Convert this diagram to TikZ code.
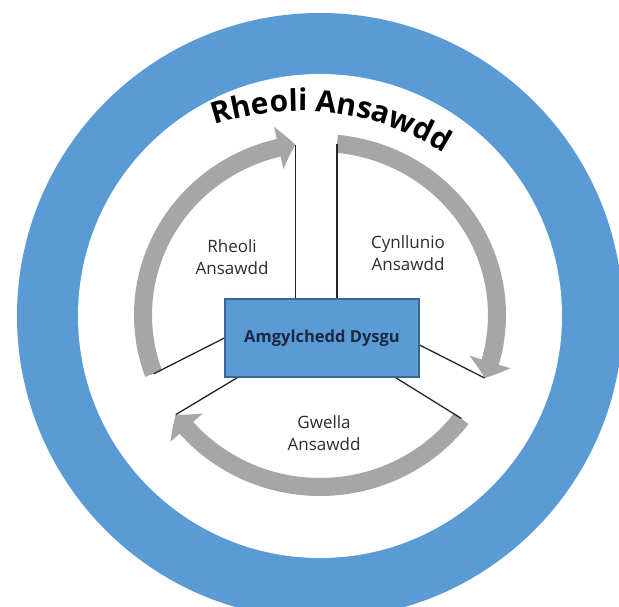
\documentclass[tikz,border=0pt]{standalone}
\usepackage{fontspec}
\setmainfont{Open Sans}
\usetikzlibrary{arrows.meta,bending,calc,decorations.text}
\definecolor{ringblue}{RGB}{91,155,213}
\definecolor{boxedge}{RGB}{58,104,150}
\definecolor{arcgray}{RGB}{166,166,166}
\definecolor{navy}{RGB}{28,40,66}
\definecolor{labelgray}{RGB}{45,45,45}
\begin{document}
\begin{tikzpicture}[x=1pt,y=1pt,
  garrow/.style={draw=arcgray, line width=18pt, -{Triangle[width=42pt,length=17pt,bend]}},
  conn/.style={draw=black!85, line width=1.3pt},
  lbl/.style={font=\fontsize{17}{22}\selectfont, text=labelgray, align=center},
  envbox/.style={draw=boxedge, line width=1.2pt, fill=ringblue, minimum width=194pt, minimum height=78pt, font=\fontsize{16.5}{20}\selectfont\bfseries, text=navy}]
\useasboundingbox (0,0) rectangle (619,606);
\clip (0,0) rectangle (619,606);
\fill[white] (0,0) rectangle (619,606);
\coordinate (R) at (320,290);
\fill[ringblue] (R) circle[radius=303];
\fill[white] (R) circle[radius=242];
\coordinate (C) at (320,291);
\coordinate (tailL) at ($(C)+(200:177 and 172)$);
\coordinate (tipL) at ($(C)+(98:177 and 172)$);
\coordinate (tailR) at ($(C)+(84.5:177 and 172)$);
\coordinate (tipR) at ($(C)+(-21.5:177 and 172)$);
\coordinate (tailB) at ($(C)+(-37:177 and 172)$);
\coordinate (tipB) at ($(C)+(-144.6:177 and 172)$);
\draw[garrow] (tailL) arc[start angle=200, end angle=98, x radius=177, y radius=172];
\draw[garrow] (tailR) arc[start angle=84.5, end angle=-21.5, x radius=177, y radius=172];
\draw[garrow] (tailB) arc[start angle=-37, end angle=-144.6, x radius=177, y radius=172];
\node[envbox] (env) at (322,268) {Amgylchedd Dysgu};
\draw[conn] (env.north -| tipL) -- (tipL);
\draw[conn] (env.north -| tailR) -- (tailR);
\draw[conn] (env.west) -- (tailL);
\draw[conn] ($(env.east)+(0,-7)$) -- (tipR);
\draw[conn] ($(env.south west)+(13,0)$) -- (tipB);
\draw[conn] ($(env.south east)+(-24,0)$) -- (tailB);
\node[envbox] at (env) {Amgylchedd Dysgu};
\node[lbl] (lab1) at (232,349) {Rheoli\\Ansawdd};
\node[lbl] (lab2) at (408,353) {Cynllunio\\Ansawdd};
\node[lbl] (lab3) at (324,173) {Gwella\\Ansawdd};
\coordinate (T) at (300,225);
\path[decorate, decoration={text along path, text align=center,
  text={|\fontsize{30}{30}\selectfont\bfseries|Rheoli Ansawdd}}]
  ($(T)+(118.1:270)$) arc[start angle=118.1, end angle=48.1, radius=270];
\end{tikzpicture}
\end{document}
